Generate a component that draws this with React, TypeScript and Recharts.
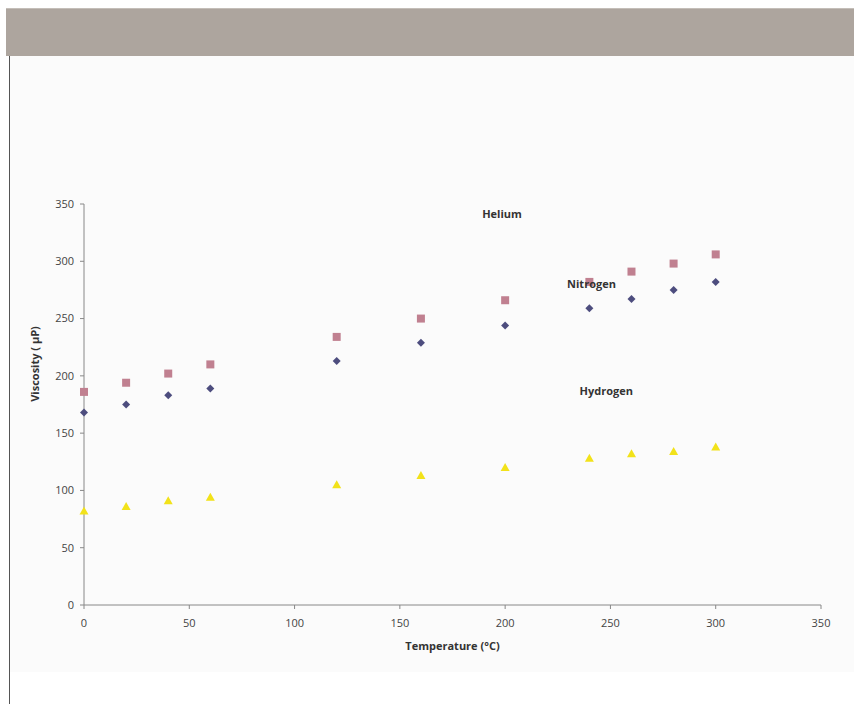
import { ScatterChart, Scatter, XAxis, YAxis, ReferenceDot } from "recharts"

const temperatures = [0, 20, 40, 60, 120, 160, 200, 240, 260, 280, 300]
const nitrogen = [168, 175, 183, 189, 213, 229, 244, 259, 267, 275, 282]
const helium = [186, 194, 202, 210, 234, 250, 266, 282, 291, 298, 306]
const hydrogen = [82, 86, 91, 94, 105, 113, 120, 128, 132, 134, 138]

const xTicks = [0, 50, 100, 150, 200, 250, 300, 350]
const yTicks = [0, 50, 100, 150, 200, 250, 300, 350]

// annotation anchors, in data units
const notes = [
  { text: "Helium", x: 198.5, y: 342 },
  { text: "Nitrogen", x: 241, y: 281 },
  { text: "Hydrogen", x: 248, y: 187 },
]

const toPoints = (values: number[]) =>
  temperatures.map((t, i) => ({ x: t, y: values[i] }))

const font = "'Open Sans', 'DejaVu Sans', sans-serif"

const Diamond = (props: any) => {
  const { cx, cy } = props
  const r = 4
  return (
    <path
      d={`M${cx},${cy - r}L${cx + r},${cy}L${cx},${cy + r}L${cx - r},${cy}Z`}
      fill="#4d4d7e"
    />
  )
}

const Square = (props: any) => {
  const { cx, cy } = props
  return <rect x={cx - 4} y={cy - 4} width={8} height={8} fill="#c08090" />
}

const Triangle = (props: any) => {
  const { cx, cy } = props
  return (
    <path
      d={`M${cx},${cy - 4.5}L${cx + 4.5},${cy + 3.5}L${cx - 4.5},${cy + 3.5}Z`}
      fill="#f2e21a"
    />
  )
}

const NoteLabel = (text: string) => (props: any) => {
  const { viewBox } = props
  const cx = viewBox.x + (viewBox.width || 0) / 2
  const cy = viewBox.y + (viewBox.height || 0) / 2
  return (
    <text
      x={cx}
      y={cy}
      textAnchor="middle"
      dominantBaseline="central"
      fontFamily={font}
      fontSize={11}
      fontWeight="bold"
      fill="#333"
    >
      {text}
    </text>
  )
}

const YTitle = (props: any) => {
  const { viewBox } = props
  const x = viewBox.x + 10
  const y = 364
  return (
    <text
      x={x}
      y={y}
      transform={`rotate(-90 ${x} ${y})`}
      textAnchor="middle"
      dominantBaseline="central"
      fontFamily={font}
      fontSize={11}
      fontWeight="bold"
      fill="#333"
    >
      Viscosity ( µP)
    </text>
  )
}

const tickStyle = { fill: "#444", stroke: "none", fontSize: 11, fontFamily: font }

export default function App() {
  return (
    <div
      style={{
        position: "fixed",
        left: 0,
        top: 0,
        width: 854,
        height: 704,
        background: "#ffffff",
        overflow: "hidden",
      }}
    >
      <div
        style={{
          position: "absolute",
          left: 6,
          top: 8,
          width: 848,
          height: 48,
          background: "#ada59e",
          borderTop: "1px solid #c4beb8",
          boxSizing: "border-box",
        }}
      />
      <div
        style={{
          position: "absolute",
          left: 10,
          top: 56,
          width: 844,
          height: 616,
          background: "#fbfbfb",
        }}
      />
      <div
        style={{
          position: "absolute",
          left: 9,
          top: 56,
          width: 1,
          height: 648,
          background: "#555",
        }}
      />
      <div style={{ position: "absolute", left: 0, top: 0 }}>
        <ScatterChart
          width={854}
          height={704}
          margin={{ top: 204, right: 33, bottom: 69, left: 24 }}
        >
          <XAxis
            type="number"
            dataKey="x"
            domain={[0, 350]}
            ticks={xTicks}
            interval={0}
            stroke="#888"
            tickSize={4}
            tickMargin={10}
            tick={tickStyle}
            height={30}
            label={{
              value: "Temperature (°C)",
              position: "bottom",
              offset: 7,
              fill: "#333",
              fontSize: 11,
              fontWeight: "bold",
              fontFamily: font,
            }}
          />
          <YAxis
            type="number"
            dataKey="y"
            domain={[0, 350]}
            ticks={yTicks}
            interval={0}
            stroke="#888"
            tickSize={4}
            tickMargin={6}
            width={60}
            tick={tickStyle}
            label={<YTitle />}
          />
          <Scatter
            name="Nitrogen"
            data={toPoints(nitrogen)}
            shape={Diamond}
            isAnimationActive={false}
          />
          <Scatter
            name="Helium"
            data={toPoints(helium)}
            shape={Square}
            isAnimationActive={false}
          />
          <Scatter
            name="Hydrogen"
            data={toPoints(hydrogen)}
            shape={Triangle}
            isAnimationActive={false}
          />
          {notes.map((n) => (
            <ReferenceDot
              key={n.text}
              x={n.x}
              y={n.y}
              r={0}
              fill="none"
              stroke="none"
              label={NoteLabel(n.text)}
            />
          ))}
        </ScatterChart>
      </div>
    </div>
  )
}
